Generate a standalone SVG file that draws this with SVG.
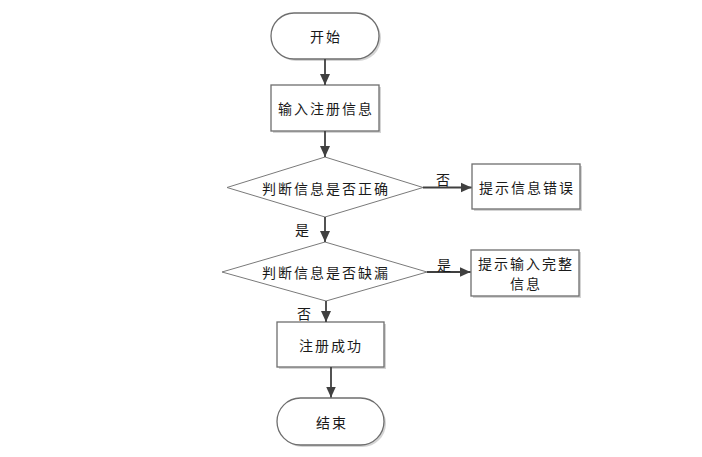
<svg xmlns="http://www.w3.org/2000/svg" width="702" height="457" viewBox="0 0 702 457">
<defs>
<style>
.shape{fill:#ffffff;stroke:#6e6e6e;stroke-width:1.3}
.shadow{fill:#d4d4d4;stroke:none}
.dia{fill:#ffffff;stroke:#7a7a7a;stroke-width:1}
.t{font-family:"Noto Sans CJK SC","Liberation Sans",sans-serif;font-size:14px;fill:#1a1a1a;text-anchor:middle;dominant-baseline:central;letter-spacing:2px}
.lbl{font-family:"Noto Sans CJK SC","Liberation Sans",sans-serif;font-size:14px;fill:#1a1a1a;text-anchor:middle;dominant-baseline:central}
.conn{stroke:#404040;stroke-width:1.8;fill:none;marker-end:url(#arr)}
</style>
<marker id="arr" markerUnits="userSpaceOnUse" markerWidth="12" markerHeight="12" viewBox="0 0 12 12" refX="11" refY="6" orient="auto">
<path d="M0,1 L11,6 L0,11 z" fill="#404040"/>
</marker>
</defs>
<rect width="702" height="457" fill="#ffffff"/>

<g id="start">
<rect class="shadow" x="273" y="15" width="108" height="46" rx="23"/>
<rect class="shape" x="271" y="13" width="108" height="46" rx="23"/>
<text class="t" x="326" y="36">开始</text>
</g>

<g id="input">
<rect class="shadow" x="273" y="87" width="108" height="46"/>
<rect class="shape" x="271" y="85" width="108" height="46"/>
<text class="t" x="326" y="108">输入注册信息</text>
</g>

<g id="check1">
<polygon class="dia" points="227,187.5 325,157 423,187.5 325,217"/>
<text class="t" x="326" y="188">判断信息是否正确</text>
</g>

<g id="err">
<rect class="shadow" x="474" y="166" width="108" height="45"/>
<rect class="shape" x="472" y="164" width="108" height="45"/>
<text class="t" x="527" y="187">提示信息错误</text>
</g>

<g id="check2">
<polygon class="dia" points="222,272 325,242 427,272 326,301"/>
<text class="t" x="326" y="272">判断信息是否缺漏</text>
</g>

<g id="missing">
<rect class="shadow" x="473" y="252" width="108" height="46"/>
<rect class="shape" x="471" y="250" width="108" height="46"/>
<text class="t" x="526" y="263">提示输入完整</text>
<text class="t" x="526" y="283">信息</text>
</g>

<g id="success">
<rect class="shadow" x="279" y="324" width="107" height="45"/>
<rect class="shape" x="277" y="322" width="107" height="45"/>
<text class="t" x="331" y="345">注册成功</text>
</g>

<g id="end">
<rect class="shadow" x="279" y="400" width="107" height="47" rx="23.5"/>
<rect class="shape" x="277" y="398" width="107" height="47" rx="23.5"/>
<text class="t" x="332" y="422">结束</text>
</g>

<g id="connectors">
<line class="conn" x1="325" y1="59" x2="325" y2="85"/>
<line class="conn" x1="325" y1="131" x2="325" y2="157"/>
<line class="conn" x1="423" y1="187.5" x2="471.5" y2="187.5"/>
<line class="conn" x1="325" y1="217" x2="325" y2="242"/>
<line class="conn" x1="427" y1="272" x2="470.5" y2="272"/>
<line class="conn" x1="326" y1="301" x2="326" y2="322"/>
<line class="conn" x1="331" y1="367" x2="331" y2="397.5"/>
<text class="lbl" x="443" y="179">否</text>
<text class="lbl" x="302" y="229">是</text>
<text class="lbl" x="444" y="264">是</text>
<text class="lbl" x="304" y="313">否</text>
</g>
</svg>
